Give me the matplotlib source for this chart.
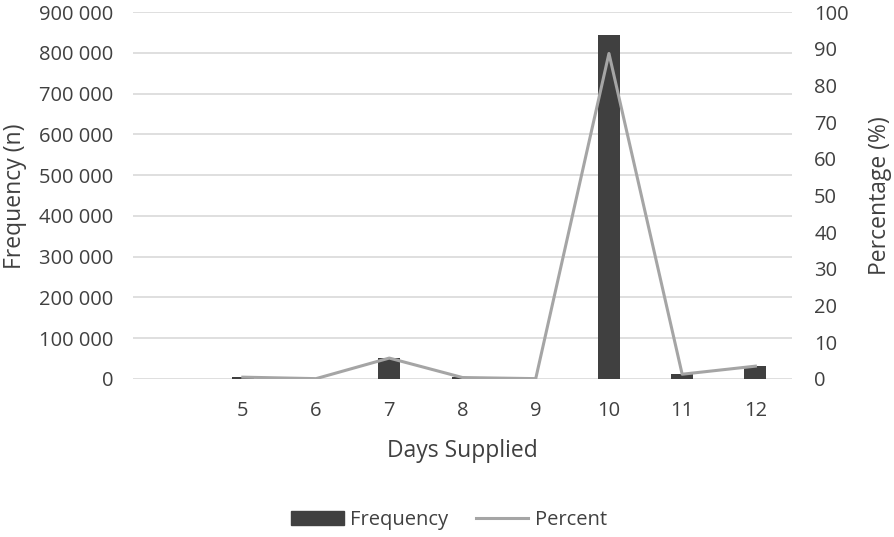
import matplotlib
matplotlib.use("Agg")
import matplotlib.pyplot as plt
import numpy as np
from matplotlib.ticker import FuncFormatter
from matplotlib.patches import Patch
from matplotlib.lines import Line2D

categories = ["", "5", "6", "7", "8", "9", "10", "11", "12"]
frequency = [0, 5000, 1000, 51000, 4000, 1000, 843000, 11500, 32500]
percent = [None, 0.5, 0.1, 5.7, 0.4, 0.1, 88.7, 1.3, 3.5]

plt.rcParams['font.family'] = ['Open Sans', 'DejaVu Sans']
text_color = '#404040'
grid_color = '#d9d9d9'
bar_color = '#404040'
line_color = '#a5a5a5'
tick_fs = 14.5
label_fs = 16.5

W, H = 894, 537
fig = plt.figure(figsize=(W/100, H/100), dpi=100)
ax = fig.add_axes([133/W, 1-379/H, (792-133)/W, (379-12)/H])
x = np.arange(len(categories))
ax.bar(x, frequency, width=0.3, color=bar_color, zorder=2)
ax.set_xlim(-0.5, len(categories)-0.5)
ax.set_ylim(0, 900000)
ax.set_yticks(np.arange(0, 900001, 100000))
ax.yaxis.set_major_formatter(FuncFormatter(lambda v, p: f"{int(v):,}".replace(",", " ")))
ax.set_xticks(x)
ax.set_xticklabels(categories)
ax.grid(axis='y', color=grid_color, linewidth=1.2, zorder=0)
for s in ax.spines.values():
    s.set_visible(False)
ax.tick_params(axis='both', length=0, labelsize=tick_fs, colors=text_color)
ax.tick_params(axis='x', pad=16)
ax.tick_params(axis='y', pad=14)
ax.set_xlabel("Days Supplied", fontsize=label_fs, color=text_color, labelpad=13)

ax2 = ax.twinx()
px = [i for i, p in enumerate(percent) if p is not None]
py = [p for p in percent if p is not None]
ax2.plot(px, py, color=line_color, linewidth=2.2, zorder=3)
ax2.set_ylim(0, 100)
ax2.set_yticks(np.arange(0, 101, 10))
for s in ax2.spines.values():
    s.set_visible(False)
ax2.tick_params(axis='y', length=0, labelsize=tick_fs, colors=text_color, pad=16)

fig.text(15/W, 1-196/H, "Frequency (n)", rotation=90, ha='center', va='center',
         fontsize=label_fs, color=text_color)
fig.text(880/W, 1-196/H, "Percentage (%)", rotation=90, ha='center', va='center',
         fontsize=label_fs, color=text_color)

handles = [Patch(color=bar_color, label="Frequency"),
           Line2D([0], [0], color=line_color, linewidth=2.2, label="Percent")]
fig.legend(handles=handles, loc='center', bbox_to_anchor=(449/W, 1-520/H), ncol=2,
           frameon=False, fontsize=tick_fs, labelcolor=text_color, handlelength=2.6,
           handleheight=0.75, columnspacing=1.4, handletextpad=0.3)

fig.savefig("out.png", dpi=100)
